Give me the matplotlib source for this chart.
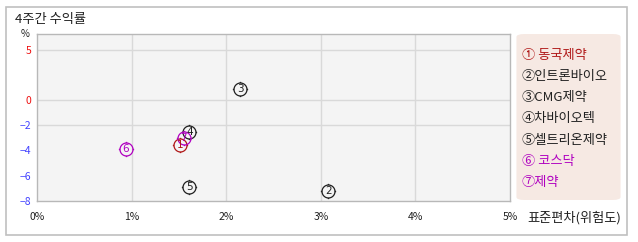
import numpy as np
import matplotlib
matplotlib.use("Agg")
import matplotlib.pyplot as plt
from matplotlib.path import Path
from matplotlib.patches import Rectangle, FancyBboxPatch

plt.rcParams['font.family'] = ['Noto Sans CJK KR', 'DejaVu Sans']
plt.rcParams['axes.unicode_minus'] = True

# ---- data ----
names = ["동국제약", "인트론바이오", "CMG제약", "차바이오텍", "셀트리온제약", "코스닥", "제약"]
marks = ["①", "②", "③", "④", "⑤", "⑥", "⑦"]
digits = ["1", "2", "3", "4", "5", "6", "7"]
risk = [1.51, 3.08, 2.15, 1.61, 1.61, 0.94, 1.55]      # std dev, %
ret4w = [-3.6, -7.2, 1.1, -2.5, -6.9, -3.9, -3.0]      # 4-week return, %
colors = ["#b01818", "#202020", "#202020", "#202020", "#202020", "#b000c0", "#b000c0"]
legend_gap = [" ", "", "", "", "", " ", ""]
xticks = [0, 1, 2, 3, 4, 5]
xticklabels = ["0%", "1%", "2%", "3%", "4%", "5%"]
yticks = [5, 0, -2, -4, -6, -8]
ygrid = [5, 0, -2]
title = "4주간 수익률"
xlabel = "표준편차(위험도)"

W, H = 638, 242
fig = plt.figure(figsize=(W / 100, H / 100), dpi=100)

def fx(px):
    return px / W

def fy(py):
    return 1 - py / H

# outer border
fig.patches.append(Rectangle((fx(6), fy(235)), fx(627) - fx(6), fy(7) - fy(235),
                             transform=fig.transFigure, fill=False, ec="#c0c0c0", lw=1.2))
# legend box
fig.patches.append(FancyBboxPatch((fx(519), fy(199)), fx(618) - fx(519), fy(35) - fy(199),
                                  boxstyle="round,pad=0.004,rounding_size=0.012",
                                  transform=fig.transFigure, fc="#f6e9e3", ec="none"))

ax = fig.add_axes([fx(37), fy(201), fx(510) - fx(37), fy(34) - fy(201)])
ax.set_facecolor("#f4f4f4")

def fwd(y):
    y = np.asarray(y, dtype=float)
    return np.where(y >= 0, y * 10.0, y * 12.625)

def inv(y):
    y = np.asarray(y, dtype=float)
    return np.where(y >= 0, y / 10.0, y / 12.625)

ax.set_yscale("function", functions=(fwd, inv))
ax.set_xlim(0, 5)
ax.set_ylim(-8, 6.6)

for v in xticks[1:-1]:
    ax.axvline(v, color="#d9d9d9", lw=1, zorder=0)
for v in ygrid:
    ax.axhline(v, color="#d9d9d9", lw=1, zorder=0)

for s in ax.spines.values():
    s.set_color("#b8b8b8")
    s.set_linewidth(1)

ax.set_xticks(xticks)
ax.set_xticklabels(xticklabels)
ax.set_yticks(yticks)
ax.set_yticklabels([str(v) if v >= 0 else "\u2212" + str(-v) for v in yticks])
ax.tick_params(length=0, labelsize=7.5, pad=8)
ax.tick_params(axis="y", pad=4)
for lab, v in zip(ax.get_yticklabels(), yticks):
    lab.set_color("#ee1111" if v >= 0 else "#4444ff")
for lab in ax.get_xticklabels():
    lab.set_color("#202020")
ax.yaxis.set_minor_locator(matplotlib.ticker.NullLocator())

# marker: circle + four small ticks
theta = np.linspace(0, 2 * np.pi, 41)
verts = [(np.cos(t), np.sin(t)) for t in theta]
codes = [Path.MOVETO] + [Path.LINETO] * (len(theta) - 1)
for (a, b) in [((0, 1), (0, 1.18)), ((0, -1), (0, -1.18)), ((1, 0), (1.18, 0)), ((-1, 0), (-1.18, 0))]:
    verts += [a, b]
    codes += [Path.MOVETO, Path.LINETO]
mpath = Path(verts, codes)

for x, y, d, c in zip(risk, ret4w, digits, colors):
    ax.plot([x], [y], marker=mpath, ms=11, mfc="none", mec=c, mew=0.9, ls="none", zorder=3)
    ax.text(x, y, d, color=c, fontsize=7.5, ha="center", va="center", zorder=4,
            family="DejaVu Sans")

# texts
fig.text(fx(15), fy(20), title, fontsize=9.5, color="#202020", va="center", ha="left")
fig.text(fx(25), fy(34), "%", fontsize=7, color="#202020", va="center", ha="center")
fig.text(fx(527), fy(218), xlabel, fontsize=9.5, color="#202020", va="center", ha="left")

for i, (m, n, c, g) in enumerate(zip(marks, names, colors, legend_gap)):
    fig.text(fx(522), fy(55 + i * 21.3), m + g + n, fontsize=9.5, color=c, va="center", ha="left")

fig.savefig("out.png", dpi=100)
